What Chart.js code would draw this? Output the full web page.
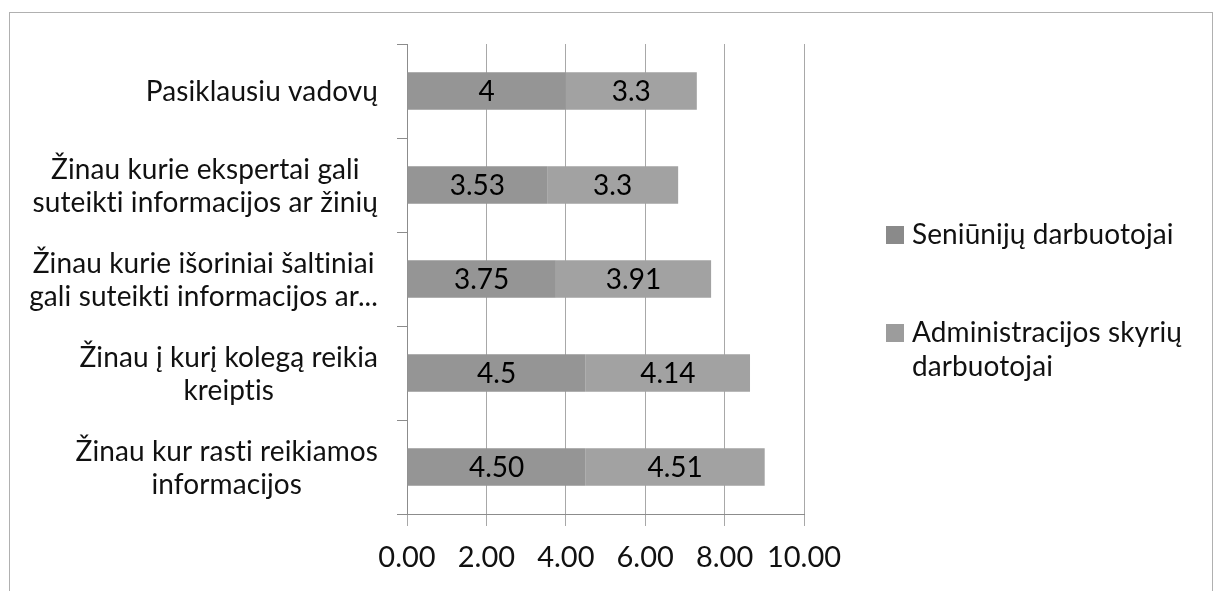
<!DOCTYPE html>
<html>
<head>
<meta charset="utf-8">
<script src="https://cdn.jsdelivr.net/npm/chart.js@4/dist/chart.umd.min.js"></script>
<style>
  html, body { margin: 0; padding: 0; background: #fff; }
  #wrap { width: 1220px; height: 591px; position: relative; }
</style>
</head>
<body>
<div id="wrap"><canvas id="c" width="1220" height="591"></canvas></div>
<script>
// Category labels, already wrapped into lines
const categories = [
  ["Pasiklausiu vadovų"],
  ["Žinau kurie ekspertai gali", "suteikti informacijos ar žinių"],
  ["Žinau kurie išoriniai šaltiniai", "gali suteikti informacijos ar..."],
  ["Žinau į kurį kolegą reikia", "kreiptis"],
  ["Žinau kur rasti reikiamos", "informacijos"]
];

// Series values
const seniunijuValues = [4, 3.53, 3.75, 4.5, 4.50];
const administracijosValues = [3.3, 3.3, 3.91, 4.14, 4.51];

// Decimal places shown on each bar label
const seniunijuDecimals = [0, 2, 2, 1, 2];
const administracijosDecimals = [1, 1, 2, 2, 2];

const seriesNames = [["Seniūnijų darbuotojai"], ["Administracijos skyrių", "darbuotojai"]];

const xTicks = [0, 2, 4, 6, 8, 10];

const FONT = "Lato, 'Open Sans', sans-serif";

// Plain letters, no "ti"/"fi" ligatures
function plainText(ctx) {
  if ('letterSpacing' in ctx) ctx.letterSpacing = '0.1px';
}

// White background and thin outer frame
const framePlugin = {
  id: 'frame',
  beforeDraw(chart) {
    const ctx = chart.ctx;
    ctx.save();
    ctx.fillStyle = '#fff';
    ctx.fillRect(0, 0, chart.width, chart.height);
    ctx.strokeStyle = '#b0b0b0';
    ctx.lineWidth = 1;
    ctx.strokeRect(9.5, 12.5, 1203, 600);
    ctx.restore();
  }
};

// Category labels: each block right-aligned to the axis, its lines centred on each other
const categoryLabelPlugin = {
  id: 'categoryLabels',
  afterDraw(chart) {
    const ctx = chart.ctx;
    const scale = chart.scales.y;
    const lineH = 33;
    ctx.save();
    ctx.font = "28px " + FONT;
    plainText(ctx);
    ctx.fillStyle = '#111';
    ctx.textAlign = 'center';
    ctx.textBaseline = 'middle';
    categories.forEach((lines, i) => {
      const blockW = Math.max(...lines.map(l => ctx.measureText(l).width));
      const right = scale.right - 29;
      const cx = right - blockW / 2;
      const cy = scale.getPixelForTick(i) + 1;
      lines.forEach((line, j) => {
        ctx.fillText(line, cx, cy + (j - (lines.length - 1) / 2) * lineH);
      });
    });
    ctx.restore();
  }
};

// Value labels centred inside each bar segment
const valueLabelPlugin = {
  id: 'valueLabels',
  afterDatasetsDraw(chart) {
    const ctx = chart.ctx;
    const decimals = [seniunijuDecimals, administracijosDecimals];
    ctx.save();
    ctx.font = "28px " + FONT;
    ctx.fillStyle = '#000';
    ctx.textAlign = 'center';
    ctx.textBaseline = 'middle';
    chart.data.datasets.forEach((ds, di) => {
      const meta = chart.getDatasetMeta(di);
      meta.data.forEach((bar, i) => {
        const p = bar.getCenterPoint();
        ctx.fillText(ds.data[i].toFixed(decimals[di][i]), p.x, p.y + 1);
      });
    });
    ctx.restore();
  }
};

// Legend on the right with wrapped entry names
const sideLegendPlugin = {
  id: 'sideLegend',
  afterDraw(chart) {
    const ctx = chart.ctx;
    const x0 = 886, box = 18, lineH = 34;
    const tops = [235, 333];
    ctx.save();
    ctx.font = "28px " + FONT;
    plainText(ctx);
    ctx.textAlign = 'left';
    ctx.textBaseline = 'middle';
    chart.data.datasets.forEach((ds, di) => {
      const y = tops[di];
      ctx.fillStyle = ds.legendColor;
      ctx.fillRect(x0, y - box / 2, box, box);
      ctx.fillStyle = '#111';
      seriesNames[di].forEach((line, j) => {
        ctx.fillText(line, x0 + 26, y + j * lineH);
      });
    });
    ctx.restore();
  }
};

new Chart(document.getElementById('c'), {
  type: 'bar',
  data: {
    labels: categories.map(l => l.join(' ')),
    datasets: [
      {
        label: seriesNames[0].join(' '),
        data: seniunijuValues,
        backgroundColor: '#959595',
        legendColor: '#8a8a8a',
        barPercentage: 0.4,
        categoryPercentage: 1
      },
      {
        label: seriesNames[1].join(' '),
        data: administracijosValues,
        backgroundColor: '#a2a2a2',
        legendColor: '#9c9c9c',
        barPercentage: 0.4,
        categoryPercentage: 1
      }
    ]
  },
  options: {
    indexAxis: 'y',
    responsive: false,
    animation: false,
    layout: { padding: { top: 44, right: 416, bottom: 0, left: 0 } },
    plugins: {
      legend: { display: false },
      tooltip: { enabled: false }
    },
    scales: {
      x: {
        stacked: true,
        min: 0,
        max: 10,
        afterBuildTicks(scale) { scale.ticks = xTicks.map(v => ({ value: v })); },
        afterFit(scale) { scale.height = 77; },
        ticks: {
          padding: 14,
          color: '#111',
          font: { family: FONT, size: 29 },
          callback: v => Number(v).toFixed(2),
          maxRotation: 0
        },
        grid: { color: '#a8a8a8', lineWidth: 1, tickLength: 12, drawTicks: true },
        border: { display: true, color: '#8c8c8c', width: 1 }
      },
      y: {
        stacked: true,
        afterFit(scale) { scale.width = 407; },
        ticks: { display: false },
        grid: { drawOnChartArea: false, drawTicks: true, tickLength: 10, offset: true, color: '#8c8c8c' },
        border: { display: true, color: '#8c8c8c', width: 1 }
      }
    }
  },
  plugins: [framePlugin, categoryLabelPlugin, valueLabelPlugin, sideLegendPlugin]
});
</script>
</body>
</html>
